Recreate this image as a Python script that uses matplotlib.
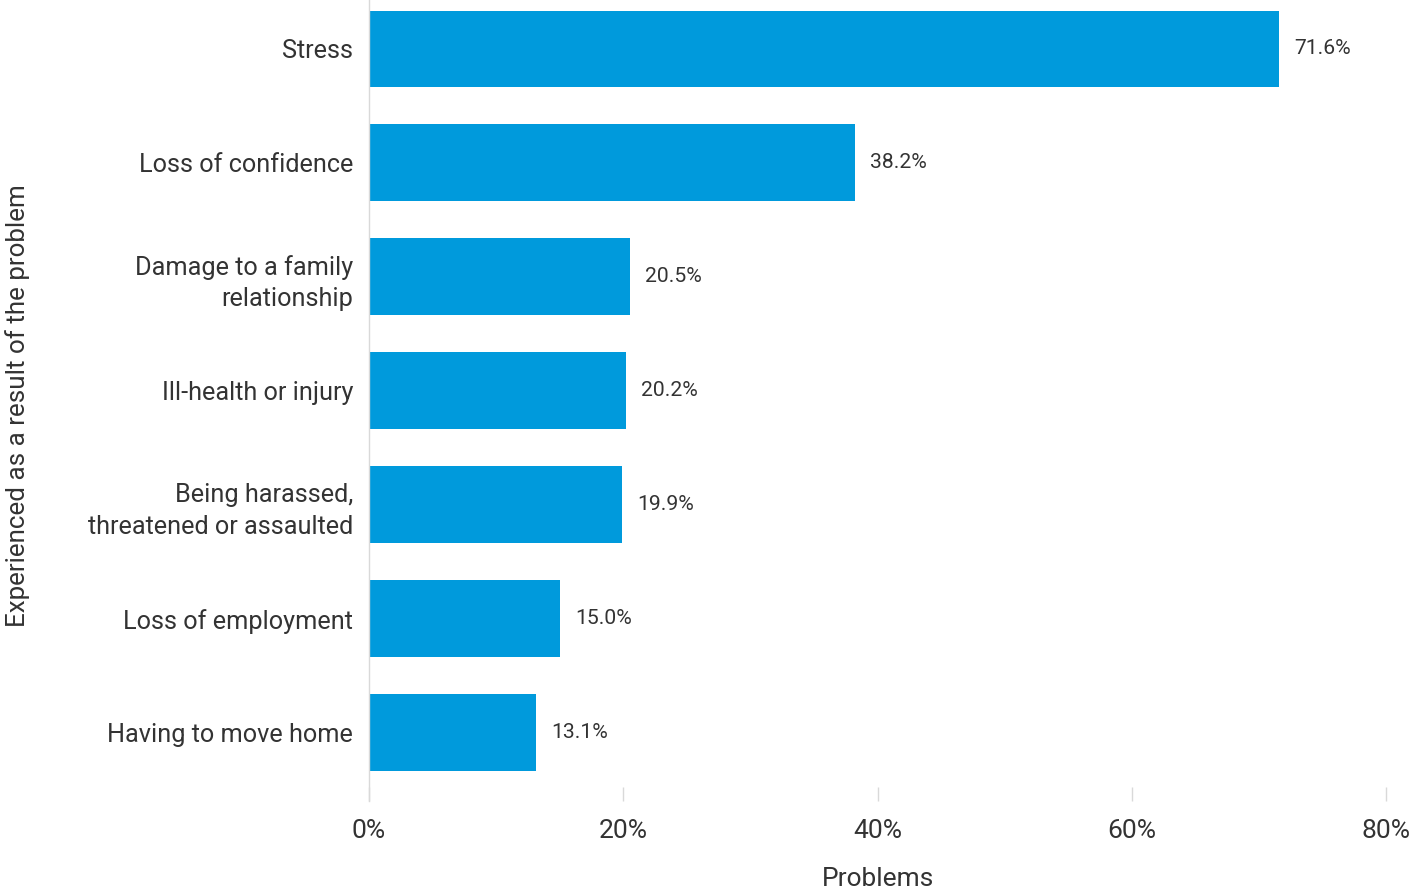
import matplotlib
matplotlib.use('Agg')
import matplotlib.pyplot as plt
from matplotlib.ticker import FuncFormatter

plt.rcParams['font.family'] = ['Roboto', 'DejaVu Sans']

# 问题导致的后果及占比
categories = ['Stress', 'Loss of confidence', 'Damage to a family\nrelationship',
              'Ill-health or injury', 'Being harassed,\nthreatened or assaulted',
              'Loss of employment', 'Having to move home']
values = [71.6, 38.2, 20.5, 20.2, 19.9, 15.0, 13.1]
xticks = [0, 20, 40, 60, 80]

bar_color = '#009ADC'
text_color = '#333333'

fig = plt.figure(figsize=(14.28, 8.9), dpi=100)
ax = fig.add_axes([369 / 1428, 1 - 801 / 890, (1386 - 369) / 1428, 801 / 890])

y = list(range(len(categories)))
bars = ax.barh(y, values, height=0.675, color=bar_color)

# 在柱子右侧标注数值
for b, v in zip(bars, values):
    ax.annotate(f'{v:.1f}%', (v, b.get_y() + b.get_height() / 2),
                xytext=(11, 0), textcoords='offset points',
                ha='left', va='center', fontsize=15.2, color=text_color)

ax.set_xlim(0, 80)
ax.set_ylim(6.6, -0.43)
ax.set_yticks(y)
ax.set_yticklabels(categories, fontsize=18.2, color=text_color, linespacing=1.4)
ax.set_xticks(xticks)
ax.xaxis.set_major_formatter(FuncFormatter(lambda x, p: f'{x:.0f}%'))

for s in ['top', 'right', 'bottom']:
    ax.spines[s].set_visible(False)
ax.spines['left'].set_color('#d9d9d9')
ax.spines['left'].set_linewidth(1)

ax.tick_params(axis='y', length=0, pad=11.5)
ax.tick_params(axis='x', direction='in', length=10, width=1, color='#d9d9d9',
               labelsize=19, labelcolor=text_color, pad=13)

ax.set_xlabel('Problems', fontsize=19, color=text_color, labelpad=17)
fig.text(18 / 1428, 1 - 406 / 890, 'Experienced as a result of the problem',
         rotation=90, ha='center', va='center', fontsize=18.7, color=text_color)

fig.savefig('out.png', dpi=100)
